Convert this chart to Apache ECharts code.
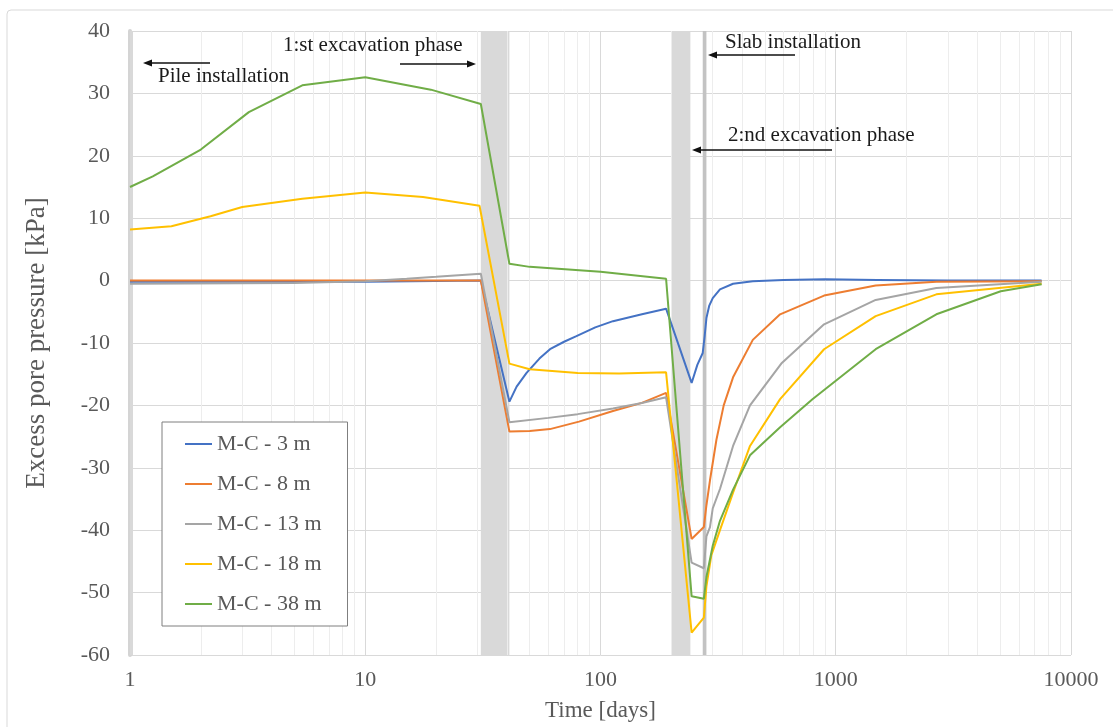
<!DOCTYPE html>
<html>
<head>
<meta charset="utf-8">
<script src="https://cdn.jsdelivr.net/npm/echarts@6/dist/echarts.min.js"></script>
<style>
  html, body { margin: 0; padding: 0; background: #fff; }
  #chart { width: 1113px; height: 727px; }
</style>
</head>
<body>
<div id="chart"></div>
<script>
// series names + excel default colours
const names = ['M-C - 3 m', 'M-C - 8 m', 'M-C - 13 m', 'M-C - 18 m', 'M-C - 38 m'];
const colors = ['#4472C4', '#ED7D31', '#A5A5A5', '#FFC000', '#70AD47'];

// time [days] / excess pore pressure [kPa]
const t3 = [1, 10, 31, 41, 44, 48.5, 55, 61, 70, 79, 95, 113, 150, 190, 244, 258, 272, 277, 282, 290, 300, 322, 366, 444, 600, 900, 1500, 3000, 7500];
const p3 = [-0.2, -0.2, 0, -19.4, -17, -14.8, -12.5, -11, -9.8, -8.9, -7.5, -6.5, -5.4, -4.5, -16.4, -13.5, -11.6, -9, -6, -4, -2.8, -1.4, -0.5, -0.1, 0.1, 0.2, 0.1, 0, 0];

const t8 = [1, 31, 41, 50, 61, 81, 113, 150, 190, 244, 275, 282, 292, 311, 334, 366, 444, 580, 892, 1478, 2677, 7500];
const p8 = [0, 0, -24.2, -24.1, -23.8, -22.6, -20.9, -19.6, -18, -41.4, -39.5, -36, -32, -25.5, -20, -15.5, -9.5, -5.4, -2.4, -0.8, -0.2, -0.1];

const t13 = [1, 5, 10, 15, 20, 31, 41, 60, 80, 113, 150, 190, 244, 275, 282, 292, 300, 322, 366, 432, 590, 892, 1478, 2677, 7500];
const p13 = [-0.5, -0.4, -0.1, 0.3, 0.6, 1.1, -22.7, -22, -21.4, -20.5, -19.6, -18.7, -45.2, -46.1, -41, -39.5, -36.5, -33.4, -26.5, -20, -13.2, -7, -3.1, -1.2, -0.2];

const t18 = [1, 1.5, 2.2, 3, 5.4, 10, 17.6, 30.6, 41, 50, 80, 120, 190, 244, 275, 282, 296, 322, 366, 432, 580, 892, 1478, 2677, 7500];
const p18 = [8.2, 8.7, 10.3, 11.8, 13.1, 14.1, 13.4, 12, -13.3, -14.2, -14.8, -14.9, -14.7, -56.4, -54, -49, -44, -40, -34, -26.5, -19, -11, -5.7, -2.2, -0.5];

const t38 = [1, 1.25, 2, 3.2, 5.4, 10, 19, 31, 41, 50, 100, 190, 244, 275, 282, 300, 322, 366, 432, 580, 796, 1478, 2677, 5027, 7500];
const p38 = [15, 16.7, 21, 27, 31.3, 32.6, 30.6, 28.3, 2.7, 2.2, 1.4, 0.3, -50.6, -51, -47.5, -42.5, -38.5, -33.5, -28, -23.5, -19, -11, -5.4, -1.7, -0.6];

// construction phases (days)
const bands = [[1, 1.03], [31, 41], [200, 241]];
const slab = [272, 282];
// minor log gridlines
const minorTicks = [2, 3, 4, 5, 6, 7, 8, 9, 20, 30, 40, 50, 60, 70, 80, 90,
  200, 300, 400, 500, 600, 700, 800, 900, 2000, 3000, 4000, 5000, 6000, 7000, 8000, 9000];

const times = [t3, t8, t13, t18, t38];
const values = [p3, p8, p13, p18, p38];

const font = '"Liberation Serif", "Times New Roman", serif';

function pairs(t, v) {
  return t.map((x, i) => [x, v[i]]);
}

function arrow(x1, x2, y) {
  const dir = x2 > x1 ? 1 : -1;
  return [
    { type: 'line', shape: { x1: x1, y1: y, x2: x2 - dir * 6, y2: y }, style: { stroke: '#111', lineWidth: 1.3 }, z: 10 },
    { type: 'polygon', shape: { points: [[x2, y], [x2 - dir * 9, y - 3.5], [x2 - dir * 9, y + 3.5]] }, style: { fill: '#111' }, z: 10 }
  ];
}

function label(text, left, top) {
  return { type: 'text', left: left, top: top, z: 10,
    style: { text: text, fill: '#1a1a1a', fontSize: 21, fontFamily: font } };
}

const chart = echarts.init(document.getElementById('chart'));

const series = names.map((n, i) => ({
  name: n,
  type: 'line',
  data: pairs(times[i], values[i]),
  showSymbol: false,
  symbol: 'none',
  color: colors[i],
  lineStyle: { width: 2, color: colors[i] },
  z: 5
}));

series.unshift({
  name: 'bg',
  type: 'line',
  data: [],
  silent: true,
  z: 1,
  markArea: {
    silent: true,
    itemStyle: { color: '#d9d9d9', opacity: 1 },
    data: bands.map(b => [{ xAxis: b[0] }, { xAxis: b[1] }])
      .concat([[{ xAxis: slab[0], itemStyle: { color: '#c3c3c3' } }, { xAxis: slab[1] }]])
  },
  markLine: {
    silent: true,
    symbol: 'none',
    label: { show: false },
    lineStyle: { color: '#ededed', width: 1, type: 'solid' },
    data: minorTicks.map(v => ({ xAxis: v }))
  }
});

const option = {
  animation: false,
  backgroundColor: '#fff',
  grid: { left: 130, right: 42, top: 31, bottom: 71 },
  legend: {
    data: names,
    orient: 'vertical',
    left: 162,
    top: 422,
    z: 20,
    padding: [11, 26, 11, 23],
    itemGap: 18,
    itemWidth: 27,
    itemHeight: 2,
    icon: 'rect',
    itemStyle: { borderWidth: 0 },
    borderColor: '#7f7f7f',
    borderWidth: 1,
    backgroundColor: '#fff',
    textStyle: { color: '#595959', fontSize: 22, fontFamily: font }
  },
  xAxis: {
    type: 'log',
    logBase: 10,
    min: 1,
    max: 10000,
    name: 'Time [days]',
    nameLocation: 'middle',
    nameGap: 44,
    nameTextStyle: { color: '#595959', fontSize: 23, fontFamily: font },
    axisLine: { show: true, lineStyle: { color: '#d9d9d9' } },
    axisTick: { show: false },
    axisLabel: {
      color: '#595959', fontSize: 22, fontFamily: font, margin: 14,
      formatter: v => String(Math.round(v))
    },
    splitLine: { show: true, lineStyle: { color: '#d9d9d9' } }
  },
  yAxis: {
    type: 'value',
    min: -60,
    max: 40,
    interval: 10,
    name: 'Excess pore pressure [kPa]',
    nameLocation: 'middle',
    nameGap: 80,
    nameTextStyle: { color: '#595959', fontSize: 27, fontFamily: font },
    axisLine: { show: true, lineStyle: { color: '#d4d4d4', width: 4 } },
    axisTick: { show: false },
    axisLabel: { color: '#595959', fontSize: 22, fontFamily: font, margin: 20 },
    splitLine: { show: true, lineStyle: { color: '#d9d9d9' } }
  },
  graphic: [
    { type: 'rect', shape: { x: 7, y: 10, width: 1200, height: 800, r: 4 },
      style: { fill: 'none', stroke: '#d9d9d9', lineWidth: 1 }, silent: true, z: -1 },
    label('Pile installation', 158, 66),
    label('1:st excavation phase', 283, 35),
    label('Slab installation', 725, 32),
    label('2:nd excavation phase', 728, 125)
  ].concat(arrow(210, 143, 63), arrow(400, 476, 64), arrow(795, 708, 55), arrow(832, 692, 150)),
  series: series
};

chart.setOption(option);
</script>
</body>
</html>
